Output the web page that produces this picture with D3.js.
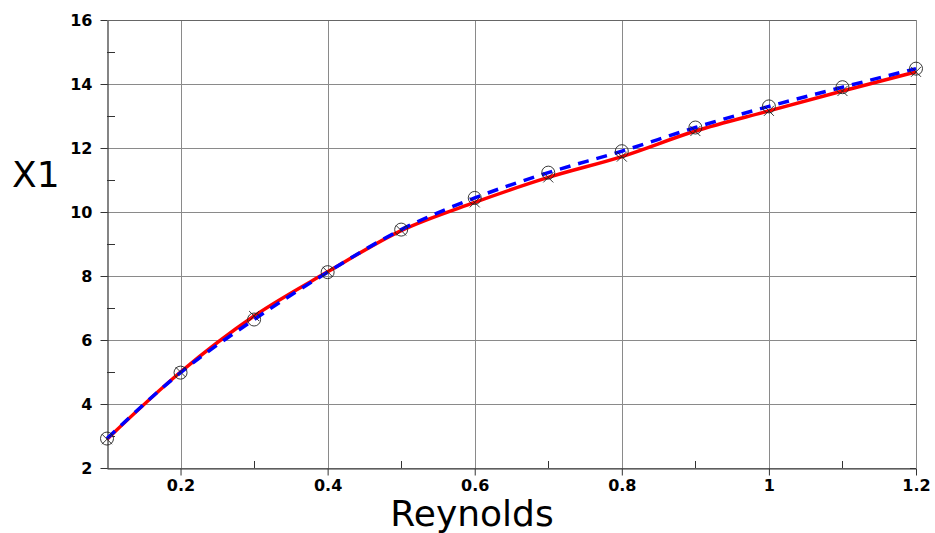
<!DOCTYPE html>
<html>
<head>
<meta charset="utf-8">
<script src="https://cdn.jsdelivr.net/npm/d3@7"></script>
<style>
  html, body { margin: 0; padding: 0; background: #fff; }
  svg { display: block; font-family: "DejaVu Sans", sans-serif; }
</style>
</head>
<body>
<svg id="chart" width="935" height="533"></svg>
<script>
// Reynolds number samples
const reynolds = [0.1, 0.2, 0.3, 0.4, 0.5, 0.6, 0.7, 0.8, 0.9, 1.0, 1.1, 1.2];
// Solid red series (x markers)
const seriesSolid = [2.9, 5.0, 6.75, 8.13, 9.42, 10.3, 11.08, 11.73, 12.53, 13.16, 13.78, 14.38];
// Dashed blue series (circle markers)
const seriesDashed = [2.92, 4.98, 6.64, 8.12, 9.45, 10.44, 11.23, 11.9, 12.64, 13.3, 13.9, 14.48];
// Axis ticks
const xTicks = [0.2, 0.4, 0.6, 0.8, 1.0, 1.2];
const xMinorTicks = [0.3, 0.5, 0.7, 0.9, 1.1];
const yTicks = [2, 4, 6, 8, 10, 12, 14, 16];
const yMinorTicks = [3, 5, 7, 9, 11, 13, 15];

const svg = d3.select("#chart");
const plotL = 107, plotR = 916, plotT = 20, plotB = 468;

const x = d3.scaleLinear().domain([0.1, 1.2]).range([plotL, plotR]);
const y = d3.scaleLinear().domain([2, 16]).range([plotB, plotT]);

// Grid
const grid = svg.append("g").attr("stroke", "#8a8a8a").attr("stroke-width", 1);
grid.selectAll(".gx").data(xTicks).join("line")
  .attr("x1", d => Math.round(x(d)) + 0.5).attr("x2", d => Math.round(x(d)) + 0.5)
  .attr("y1", plotT).attr("y2", plotB);
grid.selectAll(".gy").data(yTicks).join("line")
  .attr("x1", plotL).attr("x2", plotR)
  .attr("y1", d => Math.round(y(d)) + 0.5).attr("y2", d => Math.round(y(d)) + 0.5);

// Axes
const xAxis = d3.axisBottom(x).tickValues(xTicks).tickSize(7).tickSizeOuter(0).tickPadding(4)
  .tickFormat(d => d3.format("~g")(d));
const gx = svg.append("g").attr("transform", `translate(0,${plotB + 0.5})`).call(xAxis);
const yAxis = d3.axisLeft(y).tickValues(yTicks).tickSize(7).tickSizeOuter(0).tickPadding(8)
  .tickFormat(d3.format("d"));
const gy = svg.append("g").attr("transform", `translate(${plotL + 0.5},0)`).call(yAxis);

[gx, gy].forEach(g => {
  g.select(".domain").attr("stroke", "#333").attr("stroke-width", 1.2);
  g.selectAll(".tick line").attr("stroke", "#333");
  g.selectAll(".tick text").attr("fill", "#000")
    .style("font-size", "16px").style("font-weight", "bold")
    .style("font-family", "'DejaVu Sans', sans-serif");
});

// Minor ticks pointing inward
const minor = svg.append("g").attr("stroke", "#333").attr("stroke-width", 1);
minor.selectAll(".mx").data(xMinorTicks).join("line")
  .attr("x1", d => Math.round(x(d)) + 0.5).attr("x2", d => Math.round(x(d)) + 0.5)
  .attr("y1", plotB).attr("y2", plotB - 7);
minor.selectAll(".my").data(yMinorTicks).join("line")
  .attr("x1", plotL).attr("x2", plotL + 8)
  .attr("y1", d => Math.round(y(d)) + 0.5).attr("y2", d => Math.round(y(d)) + 0.5);
// Inward ticks on right edge at major values
minor.selectAll(".ry").data(yTicks).join("line")
  .attr("x1", plotR - 6).attr("x2", plotR)
  .attr("y1", d => Math.round(y(d)) + 0.5).attr("y2", d => Math.round(y(d)) + 0.5);
// Top frame line
svg.append("line").attr("x1", plotL).attr("x2", plotR)
  .attr("y1", plotT + 0.5).attr("y2", plotT + 0.5).attr("stroke", "#666");

// Curves
const solidPts = reynolds.map((r, i) => [r, seriesSolid[i]]);
const dashedPts = reynolds.map((r, i) => [r, seriesDashed[i]]);
const line = d3.line().x(d => x(d[0])).y(d => y(d[1])).curve(d3.curveMonotoneX);

svg.append("path").datum(solidPts).attr("d", line)
  .attr("fill", "none").attr("stroke", "#ff0000").attr("stroke-width", 3.5);
svg.append("path").datum(dashedPts).attr("d", line)
  .attr("fill", "none").attr("stroke", "#0000ff").attr("stroke-width", 3.5)
  .attr("stroke-dasharray", "11,8");

// Markers
svg.append("g").selectAll("circle").data(dashedPts).join("circle")
  .attr("cx", d => x(d[0])).attr("cy", d => y(d[1])).attr("r", 6.5)
  .attr("fill", "none").attr("stroke", "#222").attr("stroke-width", 0.9);
const xm = svg.append("g").attr("stroke", "#222").attr("stroke-width", 0.9);
solidPts.forEach(d => {
  const cx = x(d[0]), cy = y(d[1]), s = 5;
  xm.append("line").attr("x1", cx - s).attr("y1", cy - s).attr("x2", cx + s).attr("y2", cy + s);
  xm.append("line").attr("x1", cx - s).attr("y1", cy + s).attr("x2", cx + s).attr("y2", cy - s);
});

// Axis titles
svg.append("text").attr("x", 12).attr("y", 187)
  .style("font-size", "36px").attr("fill", "#000").text("X1");
svg.append("text").attr("x", 472).attr("y", 526)
  .attr("text-anchor", "middle").style("font-size", "36px").attr("fill", "#000").text("Reynolds");
</script>
</body>
</html>
